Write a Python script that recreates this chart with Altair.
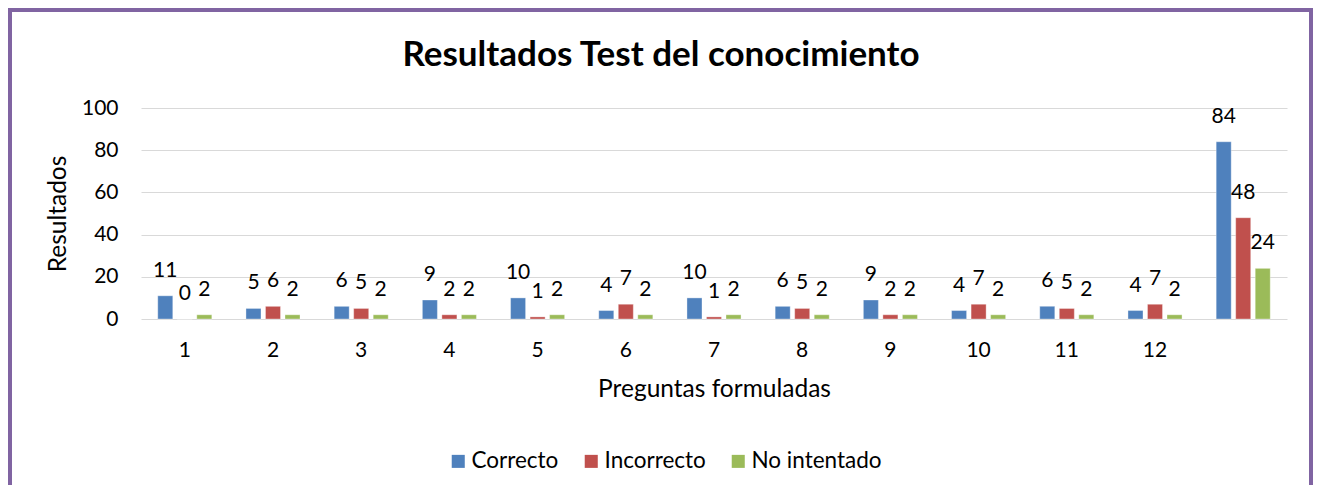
import altair as alt
import pandas as pd

# ---- data ----
preguntas = ["1", "2", "3", "4", "5", "6", "7", "8", "9", "10", "11", "12", " "]
series = ["Correcto", "Incorrecto", "No intentado"]
correcto = [11, 5, 6, 9, 10, 4, 10, 6, 9, 4, 6, 4, 84]
incorrecto = [0, 6, 5, 2, 1, 7, 1, 5, 2, 7, 5, 7, 48]
no_intentado = [2, 2, 2, 2, 2, 2, 2, 2, 2, 2, 2, 2, 24]
colores = ["#4F81BD", "#C0504D", "#9BBB59"]
titulo = "Resultados Test del conocimiento"
y_ticks = [0, 20, 40, 60, 80, 100]

rows = []
for serie, vals in zip(series, [correcto, incorrecto, no_intentado]):
    for p, v in zip(preguntas, vals):
        rows.append({"Pregunta": p, "Serie": serie, "Valor": v})
df = pd.DataFrame(rows)

FONT = "Lato"
W, H = 1146, 211

base = alt.Chart(df).encode(
    x=alt.X(
        "Pregunta:N",
        sort=preguntas,
        scale=alt.Scale(paddingInner=0.387, paddingOuter=0.19),
        axis=alt.Axis(
            title="Preguntas formuladas",
            labelAngle=0,
            labelFontSize=21,
            labelFont=FONT,
            labelColor="#000000",
            labelBaseline="middle",
            labelPadding=31,
            ticks=False,
            tickSize=0,
            domain=False,
            grid=False,
            titleFontSize=24.5,
            titleFont=FONT,
            titleFontWeight="normal",
            titleColor="#000000",
            titleX=W / 2,
            titleY=70,
            titleBaseline="middle",
            titleAlign="center",
        ),
    ),
    xOffset=alt.XOffset(
        "Serie:N", sort=series, scale=alt.Scale(paddingInner=0.23, paddingOuter=0)
    ),
    y=alt.Y(
        "Valor:Q",
        scale=alt.Scale(domain=[0, 100], nice=False),
        axis=alt.Axis(
            title="Resultados",
            values=y_ticks,
            labelFontSize=21,
            labelFont=FONT,
            labelColor="#000000",
            labelPadding=23,
            ticks=False,
            tickSize=0,
            domain=False,
            grid=True,
            gridColor="#D9D9D9",
            gridWidth=1,
            titleFontSize=24.5,
            titleFont=FONT,
            titleFontWeight="normal",
            titleColor="#000000",
            titleAngle=270,
            titleX=-82.5,
            titleY=H / 2,
            titleBaseline="middle",
            titleAlign="center",
        ),
    ),
)

bars = base.mark_bar(stroke="#FFFFFF", strokeOpacity=0.35, strokeWidth=1).encode(
    color=alt.Color(
        "Serie:N",
        sort=series,
        scale=alt.Scale(domain=series, range=colores),
        legend=alt.Legend(
            title=None,
            orient="none",
            direction="horizontal",
            legendX=306,
            legendY=342,
            padding=0,
            symbolType="square",
            symbolSize=170,
            symbolStrokeWidth=0,
            labelFontSize=22.5,
            labelFont=FONT,
            labelColor="#000000",
            labelOffset=2,
            columnPadding=21,
        ),
    )
)

labels = base.mark_text(
    dy=-25, baseline="middle", align="center", fontSize=21, font=FONT
).encode(text="Valor:Q", color=alt.value("#000000"))

title_df = pd.DataFrame({"t": [titulo]})
title_mark = alt.Chart(title_df).mark_text(
    fontSize=35, font=FONT, fontWeight="bold", align="center", baseline="middle"
).encode(text="t:N", x=alt.value(520), y=alt.value(-53), color=alt.value("#000000"))

border = alt.Chart(pd.DataFrame({"b": [0]})).mark_rect(
    fill=None, stroke="#8064A2", strokeWidth=4
).encode(
    x=alt.value(-131), x2=alt.value(1170), y=alt.value(-98), y2=alt.value(600)
)

chart = (
    alt.layer(border, bars, labels, title_mark)
    .properties(
        width=W,
        height=H,
        autosize=alt.AutoSizeParams(type="none"),
        padding={"left": 133, "top": 100, "right": 26, "bottom": 166},
        background="#FFFFFF",
    )
    .configure_view(stroke=None)
)

chart.save("out.html", embed_options={"renderer": "svg", "actions": False})
